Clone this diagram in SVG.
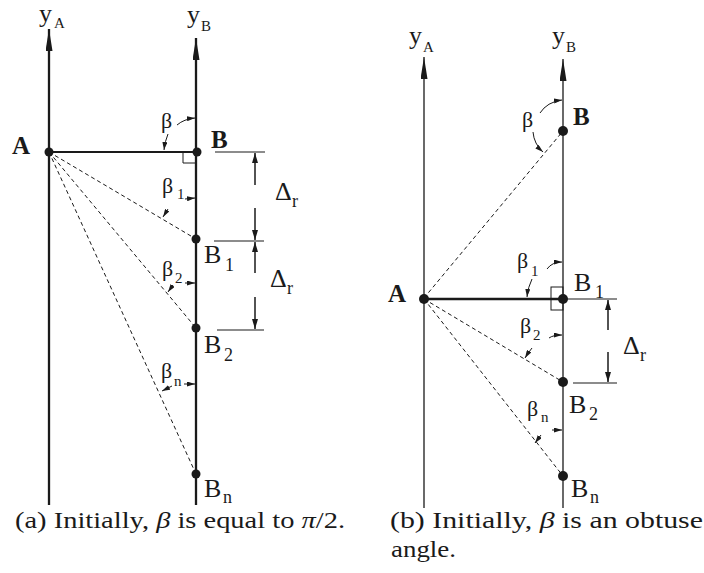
<svg xmlns="http://www.w3.org/2000/svg" width="704" height="573" viewBox="0 0 704 573">
<style>
text{font-family:"Liberation Serif","Times New Roman",serif;fill:#1a1a1a}
.lbl{font-size:26px}
.bold{font-size:25px;font-weight:bold}
.sub{font-size:18px}
.subs{font-size:15px}
.gr{font-size:22px}
.cap{font-size:23px}
.axL{stroke:#1a1a1a;stroke-width:2.3;fill:none}
.axR{stroke:#1a1a1a;stroke-width:1.3;fill:none}
.dash{stroke:#1a1a1a;stroke-width:1;stroke-dasharray:4 3;fill:none}
.solid{stroke:#1a1a1a;stroke-width:2.2;fill:none}
.gray{stroke:#666;stroke-width:1.4;fill:none}
.dim{stroke:#1a1a1a;stroke-width:1.5;fill:none}
.arc{stroke:#1a1a1a;stroke-width:1;fill:none}
.dot{fill:#1a1a1a}
</style>
<defs>
<marker id="ax" viewBox="0 0 22 7" refX="22" refY="3.5" markerWidth="22" markerHeight="7" markerUnits="userSpaceOnUse" orient="auto"><path d="M0,0 L22,3.5 L0,7 Z" fill="#1a1a1a"/></marker>
<marker id="dh" viewBox="0 0 10 6" refX="10" refY="3" markerWidth="10" markerHeight="6" markerUnits="userSpaceOnUse" orient="auto"><path d="M0,0 L10,3 L0,6 Z" fill="#1a1a1a"/></marker>
<marker id="tk" viewBox="0 0 8 5" refX="8" refY="2.5" markerWidth="8" markerHeight="5" markerUnits="userSpaceOnUse" orient="auto"><path d="M0,0 L8,2.5 L0,5 Z" fill="#1a1a1a"/></marker>
</defs>

<!-- ============ (a) ============ -->
<g id="connectors-a">
<line class="axL" x1="49" y1="505" x2="49" y2="29" marker-end="url(#ax)"/>
<line class="axL" x1="196" y1="505" x2="196" y2="38" marker-end="url(#ax)"/>
<line class="solid" x1="49" y1="152" x2="196" y2="152"/>
<polyline class="arc" points="183,152 183,163 196,163"/>
<line class="dash" x1="49" y1="152" x2="196" y2="239"/>
<line class="dash" x1="49" y1="152" x2="196" y2="328"/>
<line class="dash" x1="49" y1="152" x2="196" y2="474"/>
<line class="gray" x1="215" y1="152" x2="265" y2="152"/>
<line class="gray" x1="214" y1="241" x2="264" y2="241"/>
<line class="gray" x1="217" y1="330" x2="264" y2="330"/>
<line class="dim" x1="255" y1="185" x2="255" y2="153" marker-end="url(#dh)"/>
<line class="dim" x1="255" y1="208" x2="255" y2="240" marker-end="url(#dh)"/>
<line class="dim" x1="255" y1="273" x2="255" y2="242" marker-end="url(#dh)"/>
<line class="dim" x1="255" y1="297" x2="255" y2="329" marker-end="url(#dh)"/>
<path class="arc" d="M177,125 Q184,119 195,118" marker-end="url(#tk)"/>
<path class="arc" d="M168,134 Q165,141 164,150" marker-end="url(#tk)"/>
<path class="arc" d="M185,199 L195,198" marker-end="url(#tk)"/>
<path class="arc" d="M168,209 L163,217" marker-end="url(#tk)"/>
<path class="arc" d="M185,283 L195,283" marker-end="url(#tk)"/>
<path class="arc" d="M173,285 L168,292" marker-end="url(#tk)"/>
<path class="arc" d="M184,384 L195,384" marker-end="url(#tk)"/>
<path class="arc" d="M172,386 L162,391" marker-end="url(#tk)"/>
</g>
<g id="yA-a"><text class="lbl" x="39" y="22">y</text><text class="subs" x="54" y="28">A</text></g>
<g id="yB-a"><text class="lbl" x="187" y="23">y</text><text class="subs" x="201" y="31">B</text></g>
<g id="A-a"><circle class="dot" cx="49" cy="152" r="4.5"/><text class="bold" x="12" y="154">A</text></g>
<g id="B-a"><circle class="dot" cx="197" cy="152" r="4.5"/><text class="bold" x="211" y="148">B</text></g>
<g id="B1-a"><circle class="dot" cx="196" cy="239" r="4.5"/><text class="lbl" x="204" y="263">B</text><text class="sub" x="225" y="271">1</text></g>
<g id="B2-a"><circle class="dot" cx="196" cy="328" r="4.5"/><text class="lbl" x="204" y="353">B</text><text class="sub" x="224" y="361">2</text></g>
<g id="Bn-a"><circle class="dot" cx="196" cy="474" r="4.5"/><text class="lbl" x="204" y="497">B</text><text class="sub" x="223" y="503">n</text></g>
<g id="labels-a">
<text class="gr" x="161" y="128">β</text>
<text class="gr" x="162" y="193">β</text><text class="subs" x="177" y="199">1</text>
<text class="gr" x="162" y="276">β</text><text class="subs" x="175" y="283">2</text>
<text class="gr" x="161" y="378">β</text><text class="subs" x="174" y="386">n</text>
<text class="lbl" x="275" y="200">Δ</text><text class="sub" x="292" y="207">r</text>
<text class="lbl" x="270" y="287">Δ</text><text class="sub" x="287" y="294">r</text>
</g>
<text class="cap" x="15" y="528" textLength="330" lengthAdjust="spacingAndGlyphs">(a) Initially, <tspan font-style="italic">β</tspan> is equal to <tspan font-style="italic">π</tspan>/2.</text>

<!-- ============ (b) ============ -->
<g id="connectors-b">
<line class="axR" x1="424" y1="508" x2="424" y2="57" marker-end="url(#ax)"/>
<line class="axR" x1="563" y1="508" x2="563" y2="59" marker-end="url(#ax)"/>
<line class="solid" x1="424" y1="299" x2="563" y2="299" style="stroke-width:2.5"/>
<rect class="arc" x="551" y="287" width="12" height="23"/>
<line class="dash" x1="424" y1="298" x2="563" y2="131"/>
<line class="dash" x1="424" y1="299" x2="563" y2="382"/>
<line class="dash" x1="424" y1="299" x2="563" y2="476"/>
<line class="gray" x1="565" y1="299" x2="617" y2="299"/>
<line class="gray" x1="573" y1="383" x2="617" y2="383"/>
<line class="dim" x1="608" y1="330" x2="608" y2="300" marker-end="url(#dh)"/>
<line class="dim" x1="608" y1="352" x2="608" y2="382" marker-end="url(#dh)"/>
<path class="arc" d="M540,113 Q547,102 562,100" marker-end="url(#tk)"/>
<path class="arc" d="M533,132 Q534,144 543,152" marker-end="url(#tk)"/>
<path class="arc" d="M547,269 Q552,262 562,262" marker-end="url(#tk)"/>
<path class="arc" d="M532,279 Q528,287 527,297" marker-end="url(#tk)"/>
<path class="arc" d="M549,338 Q553,335 562,335" marker-end="url(#tk)"/>
<path class="arc" d="M532,348 Q528,353 525,358" marker-end="url(#tk)"/>
<path class="arc" d="M552,430 L562,430" marker-end="url(#tk)"/>
<path class="arc" d="M541,435 L535,443" marker-end="url(#tk)"/>
</g>
<g id="yA-b"><text class="lbl" x="409" y="44">y</text><text class="subs" x="423" y="52">A</text></g>
<g id="yB-b"><text class="lbl" x="552" y="44">y</text><text class="subs" x="566" y="52">B</text></g>
<g id="A-b"><circle class="dot" cx="424" cy="299" r="5"/><text class="bold" x="388" y="302">A</text></g>
<g id="B-b"><circle class="dot" cx="563" cy="131" r="5"/><text class="bold" x="573" y="125">B</text></g>
<g id="B1-b"><circle class="dot" cx="563" cy="299" r="5"/><text class="lbl" x="574" y="291">B</text><text class="sub" x="595" y="298">1</text></g>
<g id="B2-b"><circle class="dot" cx="563" cy="382" r="5"/><text class="lbl" x="569" y="413">B</text><text class="sub" x="589" y="420">2</text></g>
<g id="Bn-b"><circle class="dot" cx="563" cy="476" r="5"/><text class="lbl" x="571" y="497">B</text><text class="sub" x="590" y="503">n</text></g>
<g id="labels-b">
<text class="gr" x="522" y="127">β</text>
<text class="gr" x="517" y="268">β</text><text class="subs" x="531" y="276">1</text>
<text class="gr" x="520" y="333">β</text><text class="subs" x="533" y="340">2</text>
<text class="gr" x="527" y="416">β</text><text class="subs" x="541" y="422">n</text>
<text class="lbl" x="623" y="354">Δ</text><text class="sub" x="640" y="361">r</text>
</g>
<text class="cap" x="390" y="528" textLength="313" lengthAdjust="spacingAndGlyphs">(b) Initially, <tspan font-style="italic">β</tspan> is an obtuse</text>
<text class="cap" x="391" y="557" textLength="65" lengthAdjust="spacingAndGlyphs">angle.</text>
</svg>
